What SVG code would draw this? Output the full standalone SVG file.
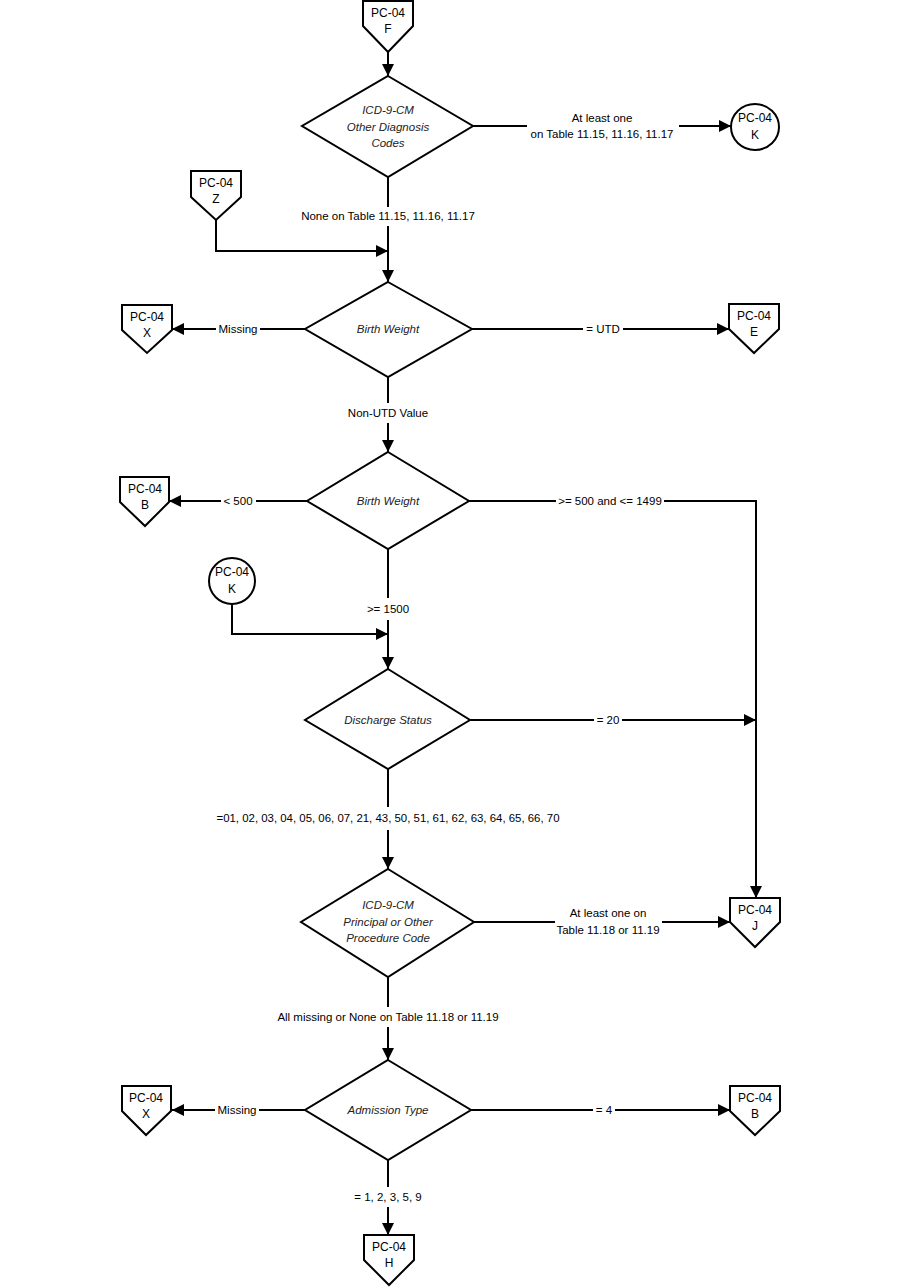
<svg xmlns="http://www.w3.org/2000/svg" width="901" height="1287" viewBox="0 0 901 1287">
<style>
.shape{fill:#fff;stroke:#000;stroke-width:2}
.ln{fill:none;stroke:#000;stroke-width:2}
text{font-family:"Liberation Sans",Arial,sans-serif;font-size:11.5px;fill:#000;text-anchor:middle}
.d{font-style:italic;fill:#222}
.p{font-size:12px}
</style>
<defs>
<marker id="ah" markerUnits="userSpaceOnUse" markerWidth="13" markerHeight="12" refX="12" refY="6" orient="auto">
<path d="M0,0 L12,6 L0,12 z" fill="#000"/>
</marker>
</defs>
<rect width="901" height="1287" fill="#fff"/>
<g id="connectors">
<path class="ln" d="M388,52 V76" marker-end="url(#ah)"/>
<path class="ln" d="M473,126 H527"/>
<path class="ln" d="M679,126 H731" marker-end="url(#ah)"/>
<path class="ln" d="M388,177 V207"/>
<path class="ln" d="M388,226 V282" marker-end="url(#ah)"/>
<path class="ln" d="M216,220 V251 H388" marker-end="url(#ah)"/>
<path class="ln" d="M305,329 H260"/>
<path class="ln" d="M216,329 H172" marker-end="url(#ah)"/>
<path class="ln" d="M472,329 H583"/>
<path class="ln" d="M623,329 H729" marker-end="url(#ah)"/>
<path class="ln" d="M388,377 V403"/>
<path class="ln" d="M388,423 V452" marker-end="url(#ah)"/>
<path class="ln" d="M307,501 H256"/>
<path class="ln" d="M221,501 H169" marker-end="url(#ah)"/>
<path class="ln" d="M469,501 H556"/>
<path class="ln" d="M664,501 H756 V898" marker-end="url(#ah)"/>
<path class="ln" d="M388,549 V598"/>
<path class="ln" d="M388,620 V669" marker-end="url(#ah)"/>
<path class="ln" d="M232,604 V634 H388" marker-end="url(#ah)"/>
<path class="ln" d="M470,720 H594"/>
<path class="ln" d="M622,720 H756" marker-end="url(#ah)"/>
<path class="ln" d="M388,769 V807"/>
<path class="ln" d="M388,830 V869" marker-end="url(#ah)"/>
<path class="ln" d="M474,922 H555"/>
<path class="ln" d="M662,922 H730" marker-end="url(#ah)"/>
<path class="ln" d="M388,977 V1007"/>
<path class="ln" d="M388,1027 V1060" marker-end="url(#ah)"/>
<path class="ln" d="M305,1110 H259"/>
<path class="ln" d="M215,1110 H172" marker-end="url(#ah)"/>
<path class="ln" d="M471,1110 H593"/>
<path class="ln" d="M615,1110 H730" marker-end="url(#ah)"/>
<path class="ln" d="M388,1160 V1187"/>
<path class="ln" d="M388,1207 V1235" marker-end="url(#ah)"/>
<text x="602" y="122">At least one</text>
<text x="602" y="138">on Table 11.15, 11.16, 11.17</text>
<text x="388" y="220">None on Table 11.15, 11.16, 11.17</text>
<text x="238" y="333">Missing</text>
<text x="603" y="333">= UTD</text>
<text x="388" y="417">Non-UTD Value</text>
<text x="238" y="505">&lt; 500</text>
<text x="610" y="505">&gt;= 500 and &lt;= 1499</text>
<text x="388" y="613">&gt;= 1500</text>
<text x="608" y="724">= 20</text>
<text x="388" y="822" textLength="343" lengthAdjust="spacingAndGlyphs">=01, 02, 03, 04, 05, 06, 07, 21, 43, 50, 51, 61, 62, 63, 64, 65, 66, 70</text>
<text x="608" y="917">At least one on</text>
<text x="608" y="934">Table 11.18 or 11.19</text>
<text x="388" y="1021">All missing or None on Table 11.18 or 11.19</text>
<text x="237" y="1114">Missing</text>
<text x="604" y="1114">= 4</text>
<text x="388" y="1201">= 1, 2, 3, 5, 9</text>
</g>
<g id="pF"><polygon class="shape" points="363,1 413,1 413,26 388,52 363,26"/><text class="p" x="388" y="17">PC-04</text><text class="p" x="388" y="33">F</text></g>
<g id="d1"><polygon class="shape" points="388,76 473,126 388,177 302,126"/><text class="d" x="388" y="114">ICD-9-CM</text><text class="d" x="388" y="131">Other Diagnosis</text><text class="d" x="388" y="147">Codes</text></g>
<g id="cK1"><ellipse class="shape" cx="755" cy="127" rx="24" ry="23"/><text class="p" x="755" y="122">PC-04</text><text class="p" x="755" y="139">K</text></g>
<g id="pZ"><polygon class="shape" points="191,171 241,171 241,197 216,220 191,197"/><text class="p" x="216" y="187">PC-04</text><text class="p" x="216" y="203">Z</text></g>
<g id="d2"><polygon class="shape" points="388,282 472,329 388,377 305,329"/><text class="d" x="388" y="333">Birth Weight</text></g>
<g id="pX1"><polygon class="shape" points="122,305 172,305 172,330 147,353 122,330"/><text class="p" x="147" y="321">PC-04</text><text class="p" x="147" y="337">X</text></g>
<g id="pE"><polygon class="shape" points="729,304 779,304 779,329 754,353 729,329"/><text class="p" x="754" y="320">PC-04</text><text class="p" x="754" y="336">E</text></g>
<g id="d3"><polygon class="shape" points="388,452 469,501 388,549 307,501"/><text class="d" x="388" y="505">Birth Weight</text></g>
<g id="pB1"><polygon class="shape" points="120,477 169,477 169,502 145,526 120,502"/><text class="p" x="145" y="493">PC-04</text><text class="p" x="145" y="509">B</text></g>
<g id="cK2"><ellipse class="shape" cx="232" cy="581" rx="23" ry="23"/><text class="p" x="232" y="576">PC-04</text><text class="p" x="232" y="593">K</text></g>
<g id="d4"><polygon class="shape" points="388,669 470,720 388,769 305,720"/><text class="d" x="388" y="724">Discharge Status</text></g>
<g id="d5"><polygon class="shape" points="388,869 474,922 388,977 301,922"/><text class="d" x="388" y="909">ICD-9-CM</text><text class="d" x="388" y="926">Principal or Other</text><text class="d" x="388" y="942">Procedure Code</text></g>
<g id="pJ"><polygon class="shape" points="730,898 780,898 780,922 755,947 730,922"/><text class="p" x="755" y="914">PC-04</text><text class="p" x="755" y="930">J</text></g>
<g id="d6"><polygon class="shape" points="388,1060 471,1110 388,1160 305,1110"/><text class="d" x="388" y="1114">Admission Type</text></g>
<g id="pX2"><polygon class="shape" points="122,1086 171,1086 171,1111 146,1135 122,1111"/><text class="p" x="146" y="1102">PC-04</text><text class="p" x="146" y="1118">X</text></g>
<g id="pB2"><polygon class="shape" points="730,1086 780,1086 780,1111 755,1135 730,1111"/><text class="p" x="755" y="1102">PC-04</text><text class="p" x="755" y="1118">B</text></g>
<g id="pH"><polygon class="shape" points="364,1235 414,1235 414,1260 389,1285 364,1260"/><text class="p" x="389" y="1251">PC-04</text><text class="p" x="389" y="1267">H</text></g>
</svg>
